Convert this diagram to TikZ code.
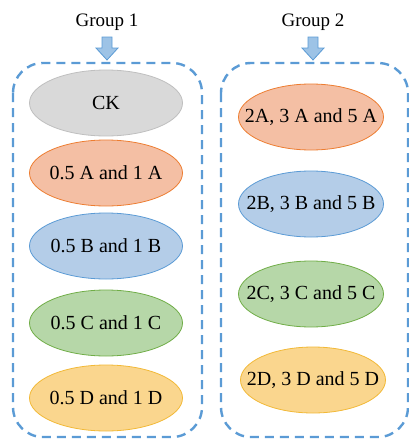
\documentclass[tikz,border=0pt]{standalone}
\usepackage{fontspec}
\setmainfont{Liberation Serif}
\usetikzlibrary{shapes.geometric}
\definecolor{frameblue}{HTML}{5B9BD5}
\definecolor{arrowfill}{HTML}{9DC3E6}
\definecolor{ckfill}{HTML}{D9D9D9}\definecolor{ckedge}{HTML}{BFBFBF}
\definecolor{afill}{HTML}{F4BFA4}\definecolor{aedge}{HTML}{ED7D31}
\definecolor{bfill}{HTML}{B4CDE8}\definecolor{bedge}{HTML}{5B9BD5}
\definecolor{cfill}{HTML}{B6D7A8}\definecolor{cedge}{HTML}{70AD47}
\definecolor{dfill}{HTML}{FAD68E}\definecolor{dedge}{HTML}{F2B937}
% zero-width label so the ellipse keeps its set size
\newcommand{\ovaltext}[1]{\makebox[0pt][c]{#1}}
\tikzset{
  oval/.style={ellipse, line width=0.8pt, minimum width=153pt, minimum height=66pt,
    inner sep=0pt, font=\fontsize{20}{22}\selectfont},
  ck/.style={oval, draw=ckedge, fill=ckfill},
  ga/.style={oval, draw=aedge, fill=afill},
  gb/.style={oval, draw=bedge, fill=bfill},
  gc/.style={oval, draw=cedge, fill=cfill},
  gd/.style={oval, draw=dedge, fill=dfill},
  grouplabel/.style={font=\fontsize{19}{21}\selectfont, inner sep=0pt},
  groupframe/.style={draw=frameblue, line width=2.4pt, dash pattern=on 9pt off 6pt, rounded corners=30pt},
  downarrow/.style={draw=frameblue, fill=arrowfill, line width=0.8pt, line join=miter}
}
\begin{document}
\begin{tikzpicture}[x=1pt,y=-1pt]
\useasboundingbox (0,0) rectangle (409,439);

% group headings
\node[grouplabel] (g1) at (107,22) {Group 1};
\node[grouplabel] (g2) at (313,22) {Group 2};

% block arrows under the headings
\foreach \cx in {107,313}{
  \draw[downarrow] (\cx-5,37) -- (\cx+5,37) -- (\cx+5,48) -- (\cx+11,48) -- (\cx,60)
    -- (\cx-11,48) -- (\cx-5,48) -- cycle;
}

% dashed group frames
\draw[groupframe] (13,63) rectangle (202,437);
\draw[groupframe] (221,63) rectangle (408,437);

% group 1 treatments
\node[ck] (ck) at (106,103) {\ovaltext{CK}};
\node[ga] (a1) at (106,173) {\ovaltext{0.5 A and 1 A}};
\node[gb] (b1) at (106,246) {\ovaltext{0.5 B and 1 B}};
\node[gc] (c1) at (106,323) {\ovaltext{0.5 C and 1 C}};
\node[gd] (d1) at (106,398) {\ovaltext{0.5 D and 1 D}};

% group 2 treatments
\node[ga, minimum width=145pt] (a2) at (311,117) {\ovaltext{2A, 3 A and 5 A}};
\node[gb, minimum width=145pt] (b2) at (311,204) {\ovaltext{2B, 3 B and 5 B}};
\node[gc, minimum width=145pt] (c2) at (311,294) {\ovaltext{2C, 3 C and 5 C}};
\node[gd, minimum width=145pt] (d2) at (313,380) {\ovaltext{2D, 3 D and 5 D}};
\end{tikzpicture}
\end{document}
